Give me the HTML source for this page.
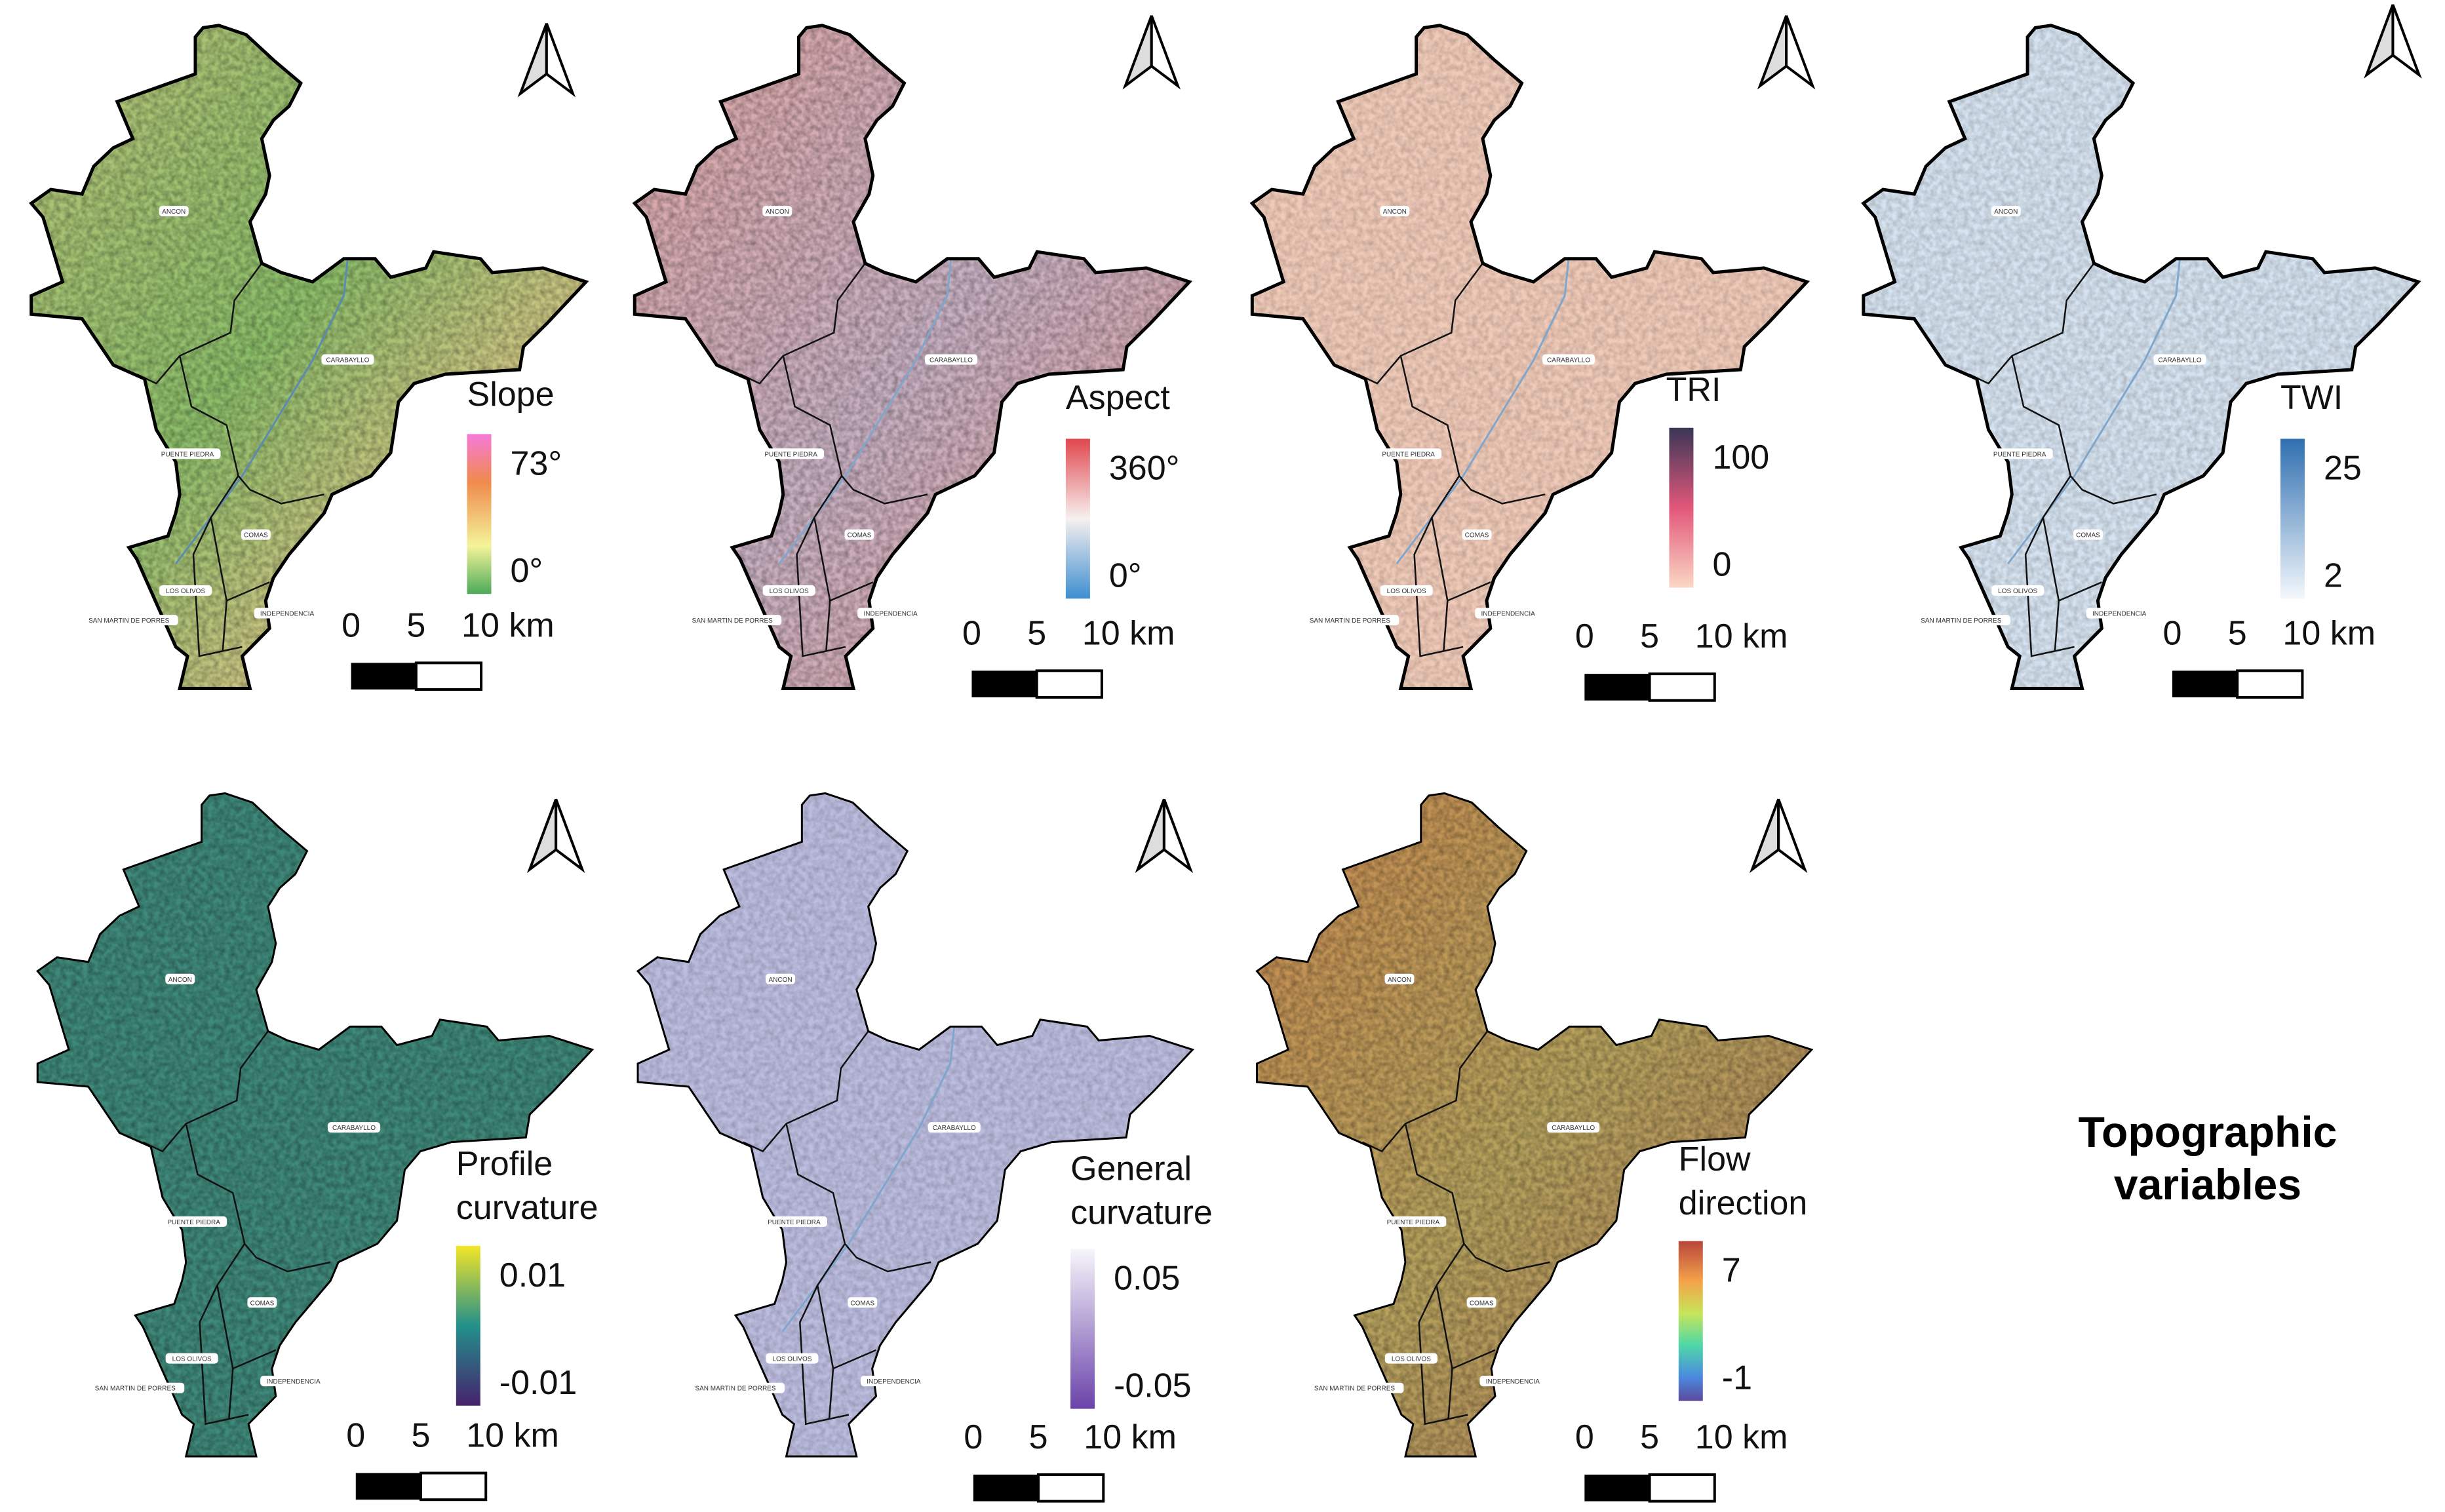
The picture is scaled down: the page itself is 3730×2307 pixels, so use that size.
<!DOCTYPE html>
<html><head><meta charset="utf-8">
<style>
html,body{margin:0;padding:0;background:#fff;}
svg{display:block;}
text{font-family:"Liberation Sans","DejaVu Sans",sans-serif;}
</style></head>
<body>
<svg id="fig" width="3730" height="2307" viewBox="0 0 3730 2307" xmlns="http://www.w3.org/2000/svg">
<defs>
  <filter id="tex" x="0" y="0" width="100%" height="100%">
    <feTurbulence type="fractalNoise" baseFrequency="0.12" numOctaves="2" seed="3"/>
    <feColorMatrix type="matrix" values="0 0 0 0 0  0 0 0 0 0  0 0 0 0 0  0 0 0 0.9 -0.25"/>
  </filter>
  <linearGradient id="g-slope" x1="0" y1="1" x2="0" y2="0"><stop offset="0" stop-color="#4daa5a"/><stop offset="0.3" stop-color="#f4f49a"/><stop offset="0.7" stop-color="#f08a4c"/><stop offset="1" stop-color="#f57ad8"/></linearGradient>
  <linearGradient id="g-aspect" x1="0" y1="1" x2="0" y2="0"><stop offset="0" stop-color="#3d8ed0"/><stop offset="0.5" stop-color="#f7f0ef"/><stop offset="1" stop-color="#e0474e"/></linearGradient>
  <linearGradient id="g-tri" x1="0" y1="1" x2="0" y2="0"><stop offset="0" stop-color="#fbd7c4"/><stop offset="0.5" stop-color="#e2577a"/><stop offset="1" stop-color="#3a3656"/></linearGradient>
  <linearGradient id="g-twi" x1="0" y1="1" x2="0" y2="0"><stop offset="0" stop-color="#f4f8fc"/><stop offset="1" stop-color="#2f6fb0"/></linearGradient>
  <linearGradient id="g-prof" x1="0" y1="1" x2="0" y2="0"><stop offset="0" stop-color="#46226c"/><stop offset="0.5" stop-color="#23908b"/><stop offset="1" stop-color="#f4e627"/></linearGradient>
  <linearGradient id="g-gen" x1="0" y1="1" x2="0" y2="0"><stop offset="0" stop-color="#6a43aa"/><stop offset="1" stop-color="#f7f6fb"/></linearGradient>
  <linearGradient id="g-flow" x1="0" y1="1" x2="0" y2="0"><stop offset="0" stop-color="#5c4a9a"/><stop offset="0.15" stop-color="#4a8ae0"/><stop offset="0.35" stop-color="#4fd8a6"/><stop offset="0.55" stop-color="#c8e55a"/><stop offset="0.75" stop-color="#f4a24a"/><stop offset="1" stop-color="#b8463c"/></linearGradient>
  <linearGradient id="m-slope" x1="0" y1="0" x2="1" y2="1"><stop offset="0" stop-color="#b9c57a"/><stop offset="0.45" stop-color="#8cbf6a"/><stop offset="0.7" stop-color="#cfc684"/><stop offset="1" stop-color="#6fb364"/></linearGradient>
  <linearGradient id="m-aspect" x1="0" y1="0" x2="1" y2="1"><stop offset="0" stop-color="#dfa6a4"/><stop offset="0.5" stop-color="#c9b2c4"/><stop offset="1" stop-color="#e2a09c"/></linearGradient>
  <linearGradient id="m-flow" x1="0" y1="0" x2="1" y2="1"><stop offset="0" stop-color="#c98a50"/><stop offset="0.5" stop-color="#b7a35e"/><stop offset="1" stop-color="#b07a55"/></linearGradient>
</defs>
<g id="layer"></g>
<text x="3368" y="1750" font-size="66" font-weight="bold" text-anchor="middle">Topographic</text>
<text x="3368" y="1830" font-size="66" font-weight="bold" text-anchor="middle">variables</text>
</svg>
<script>
// outline of the study area (panel-local coordinates)
const outline = [[520,60],[560,55],[630,75],[700,130],[770,180],[740,230],[700,260],[670,300],[690,380],[680,420],[640,480],[670,570],[720,590],[800,610],[880,560],[960,560],[1000,600],[1090,580],[1110,545],[1230,560],[1260,590],[1390,580],[1500,610],[1400,700],[1340,750],[1330,800],[1140,810],[1060,830],[1020,870],[1000,980],[950,1030],[850,1070],[830,1110],[760,1180],[740,1200],[700,1250],[680,1300],[690,1360],[620,1420],[640,1490],[460,1490],[480,1420],[450,1400],[350,1210],[330,1185],[430,1160],[450,1110],[460,1070],[450,1000],[400,930],[370,820],[290,790],[210,690],[80,680],[80,640],[160,610],[110,470],[80,440],[130,410],[210,420],[240,360],[290,320],[340,300],[300,220],[500,160],[500,80]];
const borders = [
 [[670,570],[600,650],[590,720],[460,770],[400,830],[350,810]],
 [[460,770],[490,880],[580,920],[610,1030],[620,1040],[640,1060],[720,1090],[830,1070]],
 [[610,1030],[540,1120],[495,1200],[510,1420],[620,1400]],
 [[540,1120],[580,1300],[570,1410]],
 [[580,1300],[690,1260]]
];
const river = [[890,560],[880,640],[800,780],[620,1030],[450,1220]];
const places = [["ANCON",445,457],["CARABAYLLO",890,778],["PUENTE PIEDRA",480,982],["COMAS",655,1157],["LOS OLIVOS",475,1278],["SAN MARTIN DE PORRES",330,1342],["INDEPENDENCIA",735,1327]];
const panelNames = ["slope","aspect","tri","twi","profile-curvature","general-curvature","flow-direction"];
const titles = [["Slope"],["Aspect"],["TRI"],["TWI"],["Profile","curvature"],["General","curvature"],["Flow","direction"]];
const maxLabels = ["73°","360°","100","25","0.01","0.05","7"];
const minLabels = ["0°","0°","0","2","-0.01","-0.05","-1"];
const scaleLabels = ["0","5","10 km"];
const mapFills = ["url(#m-slope)","url(#m-aspect)","#f1cbb9","#d6e3f0","#3f8a7b","#bdbde0","url(#m-flow)"];
const barFills = ["url(#g-slope)","url(#g-aspect)","url(#g-tri)","url(#g-twi)","url(#g-prof)","url(#g-gen)","url(#g-flow)"];
const S = 3730/1560;
const mapOff = [[0,0],[385,0],[779,0],[1169,0],[4,490],[387,490],[782,490]];
const titlePos = [[298,251],[680,253],[1063,248],[1455,253],[291,742],[683,745],[1071,739]];
const barPos = [[298,277],[680,280],[1065,273],[1455,280],[291,795],[683,797],[1071,792]];
const scalePos = [[224,423],[620,428],[1011,430],[1386,428],[227,940],[621,941],[1011,941]];
const arrowPos = [[332,15],[718,10],[1123,10],[1510,3],[338,510],[726,510],[1118,510]];
const NS="http://www.w3.org/2000/svg";
const layer=document.getElementById('layer');
function mk(tag,attrs,parent){const e=document.createElementNS(NS,tag);for(const k in attrs)e.setAttribute(k,attrs[k]);(parent||layer).appendChild(e);return e;}
const kx=0.596, ky=0.705;
function pts(a){return a.map(p=>(p[0]*kx).toFixed(1)+","+(p[1]*ky).toFixed(1)).join(" ");}
for(let i=0;i<7;i++){
  const g=mk('g',{transform:`translate(${mapOff[i][0]*S},${mapOff[i][1]*S})`});
  
  
  const cid='clip'+i;
  const cp=mk('clipPath',{id:cid},g);
  mk('polygon',{points:pts(outline)},cp);
  const area=mk('polygon',{points:pts(outline),fill:mapFills[i]},g);
  
  
  const t=mk('rect',{x:0,y:0,width:920,height:1100,filter:'url(#tex)','clip-path':`url(#${cid})`,opacity:(i===2||i===3||i===5)?0.35:0.6},g);
  
  
  if(i!==4&&i!==6){const r=mk('polyline',{points:pts(river),fill:'none',stroke:i===0?'#5b8bb0':'#7fa6cc','stroke-width':3},g);
    
    }
  borders.forEach(b=>{const l=mk('polyline',{points:pts(b),fill:'none',stroke:'#111','stroke-width':2.5},g);
    
    });
  const o=mk('polygon',{points:pts(outline),fill:'none',stroke:'#000','stroke-width':i<4?5:3},g);
  
  
  places.forEach(p=>{const w=p[0].length*7+10;
    const bx=mk('rect',{x:p[1]*kx-w/2,y:p[2]*ky-8,width:w,height:16,rx:5,fill:'#fff'},g);
    
    
    const tx=mk('text',{x:p[1]*kx,y:p[2]*ky+4,'font-size':10,'text-anchor':'middle','font-family':'Liberation Serif,serif',fill:'#333'},g);
    tx.textContent=p[0];
    
    });
  const L=mk('g',{});
  
  
  titles[i].forEach((s,j)=>{const tt=mk('text',{x:titlePos[i][0]*S,y:(titlePos[i][1]+j*28)*S+19,'font-size':52,fill:'#111'},L);tt.textContent=s;
    
    });
  const bx=barPos[i][0]*S, by=barPos[i][1]*S, bw=37, bh=102*S;
  const bar=mk('rect',{x:bx,y:by,width:bw,height:bh,fill:barFills[i]},L);
  
  
  const t1=mk('text',{x:bx+66,y:by+62,'font-size':52,fill:'#111'},L);t1.textContent=maxLabels[i];
  
  
  const t2=mk('text',{x:bx+66,y:by+bh-18,'font-size':52,fill:'#111'},L);t2.textContent=minLabels[i];
  
  
  const sx=scalePos[i][0]*S, sy=scalePos[i][1]*S, sw=83*S, sh=17*S;
  const sb1=mk('rect',{x:sx,y:sy,width:sw/2,height:sh,fill:'#000'},L);
  
  
  const sb2=mk('rect',{x:sx+sw/2,y:sy,width:sw/2,height:sh,fill:'#fff',stroke:'#000','stroke-width':4},L);
  
  
  [[0,0],[0.5,1],[1,2]].forEach(q=>{const st=mk('text',{x:sx+q[0]*sw,y:sy-40,'font-size':52,'text-anchor':q[1]===2?'start':'middle',fill:'#111'},L);
    if(q[1]===2)st.setAttribute('x',sx+sw-30);
    st.textContent=scaleLabels[q[1]];
    
    });
  const ax=arrowPos[i][0]*S, ay=arrowPos[i][1]*S, aw=80, ah=107;
  const na=mk('g',{},L);
  
  
  mk('polygon',{points:`${ax+aw/2},${ay} ${ax},${ay+ah} ${ax+aw/2},${ay+ah*0.72}`,fill:'#ddd',stroke:'#000','stroke-width':4},na);
  mk('polygon',{points:`${ax+aw/2},${ay} ${ax+aw},${ay+ah} ${ax+aw/2},${ay+ah*0.72}`,fill:'#fff',stroke:'#000','stroke-width':4},na);
}
</script>
</body></html>
